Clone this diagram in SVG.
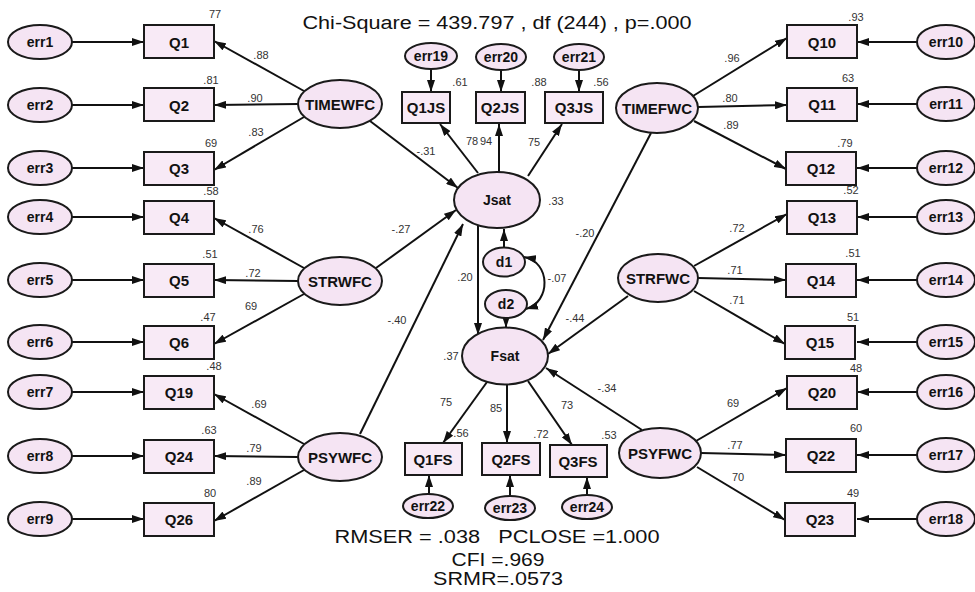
<svg xmlns="http://www.w3.org/2000/svg" width="975" height="592" viewBox="0 0 975 592">
<defs>
<marker id="ah" viewBox="0 0 12 8" refX="12" refY="4" markerWidth="12" markerHeight="8" markerUnits="userSpaceOnUse" orient="auto-start-reverse"><path d="M0,0 L12,4 L0,8 z" fill="#111"/></marker>
</defs>
<style>
.e{fill:#f5e4f3;stroke:#1a1a1a;stroke-width:2}
.b{fill:#f8eaf6;stroke:#1a1a1a;stroke-width:2}
.t{font-family:"Liberation Sans",Arial,sans-serif;font-weight:bold;font-size:15px;text-anchor:middle;dominant-baseline:central;fill:#111}
.s{font-size:14px}
.l{font-family:"Liberation Sans",Arial,sans-serif;font-size:11px;text-anchor:middle;fill:#333}
.h{font-family:"Liberation Sans",Arial,sans-serif;font-size:18px;text-anchor:middle;fill:#111}
#connectors path{stroke:#111;stroke-width:2;fill:none;marker-end:url(#ah)}
</style>
<rect width="975" height="592" fill="#fff"/>
<g id="connectors">
<path d="M72,42 H144"/><path d="M72,105 H144"/><path d="M72,168 H144"/><path d="M72,217 H144"/><path d="M72,280 H144"/><path d="M72,342 H144"/><path d="M72,392 H144"/><path d="M72,456 H144"/><path d="M72,519 H144"/>
<path d="M304,91 L214,41"/><path d="M298,104 L214,105"/><path d="M304,117 L214,170"/>
<path d="M304,268 L214,218"/><path d="M298,281 L214,280"/><path d="M304,294 L214,344"/>
<path d="M304,444 L214,394"/><path d="M298,457 L214,456"/><path d="M304,470 L214,521"/>
<path d="M917,42 H857"/><path d="M917,104 H857"/><path d="M917,168 H857"/><path d="M917,217 H857"/><path d="M917,280 H857"/><path d="M917,342 H857"/><path d="M917,392 H857"/><path d="M917,455 H857"/><path d="M917,519 H857"/>
<path d="M693,96 L787,38"/><path d="M698,107 L787,105"/><path d="M694,121 L786,169"/>
<path d="M694,266 L787,214"/><path d="M698,278 L786,280"/><path d="M694,291 L785,344"/>
<path d="M696,441 L787,388"/><path d="M701,453 L786,455"/><path d="M697,467 L785,520"/>
<path d="M431,69 V92"/><path d="M501,70 V92"/><path d="M579,70 V92"/>
<path d="M478,173 L440,124"/><path d="M499,172 V124"/><path d="M528,176 L562,124"/>
<path d="M370,121 L458,188"/><path d="M376,268 L456,210"/><path d="M360,434 L463,224"/>
<path d="M478,225 L478,335"/>
<path d="M504,247 L504,229"/><path d="M506,318 L506,328"/>
<path d="M524,257 C551,262 551,302 526,309" style="marker-start:url(#ah)"/>
<path d="M651,133 L543,340"/><path d="M628,296 L548,354"/><path d="M642,430 L546,368"/>
<path d="M487,382 L443,443"/><path d="M507,385 V443"/><path d="M528,381 L572,445"/>
<path d="M429,494 V475"/><path d="M510,496 V475"/><path d="M587,495 V477"/>
</g>
<g id="err1"><ellipse class="e" cx="40" cy="42" rx="32" ry="17"/><text class="t s" x="40" y="42">err1</text></g>
<g id="err2"><ellipse class="e" cx="40" cy="105" rx="32" ry="17"/><text class="t s" x="40" y="105">err2</text></g>
<g id="err3"><ellipse class="e" cx="40" cy="168" rx="32" ry="17"/><text class="t s" x="40" y="168">err3</text></g>
<g id="err4"><ellipse class="e" cx="40" cy="217" rx="32" ry="17"/><text class="t s" x="40" y="217">err4</text></g>
<g id="err5"><ellipse class="e" cx="40" cy="280" rx="32" ry="17"/><text class="t s" x="40" y="280">err5</text></g>
<g id="err6"><ellipse class="e" cx="40" cy="342" rx="32" ry="17"/><text class="t s" x="40" y="342">err6</text></g>
<g id="err7"><ellipse class="e" cx="40" cy="392" rx="32" ry="17"/><text class="t s" x="40" y="392">err7</text></g>
<g id="err8"><ellipse class="e" cx="40" cy="456" rx="32" ry="17"/><text class="t s" x="40" y="456">err8</text></g>
<g id="err9"><ellipse class="e" cx="40" cy="519" rx="32" ry="17"/><text class="t s" x="40" y="519">err9</text></g>
<g id="Q1"><rect class="b" x="144" y="25" width="70" height="33"/><text class="t" x="179" y="42">Q1</text></g>
<g id="Q2"><rect class="b" x="144" y="88" width="70" height="33"/><text class="t" x="179" y="105">Q2</text></g>
<g id="Q3"><rect class="b" x="144" y="152" width="70" height="33"/><text class="t" x="179" y="168">Q3</text></g>
<g id="Q4"><rect class="b" x="144" y="201" width="70" height="33"/><text class="t" x="179" y="217">Q4</text></g>
<g id="Q5"><rect class="b" x="144" y="264" width="70" height="33"/><text class="t" x="179" y="280">Q5</text></g>
<g id="Q6"><rect class="b" x="144" y="326" width="70" height="33"/><text class="t" x="179" y="342">Q6</text></g>
<g id="Q19"><rect class="b" x="144" y="376" width="70" height="33"/><text class="t" x="179" y="392">Q19</text></g>
<g id="Q24"><rect class="b" x="144" y="440" width="70" height="33"/><text class="t" x="179" y="456">Q24</text></g>
<g id="Q26"><rect class="b" x="144" y="503" width="70" height="33"/><text class="t" x="179" y="519">Q26</text></g>
<g id="TIMEWFC"><ellipse class="e" cx="340" cy="104" rx="42" ry="24"/><text class="t" x="340" y="104">TIMEWFC</text></g>
<g id="STRWFC"><ellipse class="e" cx="340" cy="281" rx="42" ry="24"/><text class="t" x="340" y="281">STRWFC</text></g>
<g id="PSYWFC"><ellipse class="e" cx="340" cy="457" rx="42" ry="24"/><text class="t" x="340" y="457">PSYWFC</text></g>
<g id="err19"><ellipse class="e" cx="431" cy="56" rx="26" ry="13"/><text class="t s" x="431" y="56">err19</text></g>
<g id="err20"><ellipse class="e" cx="501" cy="57" rx="25" ry="13"/><text class="t s" x="501" y="57">err20</text></g>
<g id="err21"><ellipse class="e" cx="579" cy="57" rx="25" ry="13"/><text class="t s" x="579" y="57">err21</text></g>
<g id="Q1JS"><rect class="b" x="402" y="92" width="48" height="31"/><text class="t" x="426" y="107">Q1JS</text></g>
<g id="Q2JS"><rect class="b" x="476" y="92" width="49" height="31"/><text class="t" x="500" y="107">Q2JS</text></g>
<g id="Q3JS"><rect class="b" x="545" y="92" width="58" height="31"/><text class="t" x="574" y="107">Q3JS</text></g>
<g id="Jsat"><ellipse class="e" cx="497" cy="200" rx="43" ry="28"/><text class="t s" x="497" y="200">Jsat</text></g>
<g id="d1"><ellipse class="e" cx="504" cy="262" rx="21" ry="14.5"/><text class="t s" x="504" y="262">d1</text></g>
<g id="d2"><ellipse class="e" cx="506" cy="304" rx="21" ry="14"/><text class="t s" x="506" y="304">d2</text></g>
<g id="Fsat"><ellipse class="e" cx="505" cy="356" rx="43" ry="28.5"/><text class="t s" x="505" y="356">Fsat</text></g>
<g id="Q1FS"><rect class="b" x="405" y="443" width="57" height="32"/><text class="t" x="433" y="459">Q1FS</text></g>
<g id="Q2FS"><rect class="b" x="482" y="443" width="58" height="32"/><text class="t" x="511" y="459">Q2FS</text></g>
<g id="Q3FS"><rect class="b" x="550" y="445" width="57" height="32"/><text class="t" x="578" y="461">Q3FS</text></g>
<g id="err22"><ellipse class="e" cx="428" cy="506" rx="25" ry="12"/><text class="t s" x="428" y="506">err22</text></g>
<g id="err23"><ellipse class="e" cx="510" cy="508" rx="25" ry="12"/><text class="t s" x="510" y="508">err23</text></g>
<g id="err24"><ellipse class="e" cx="587" cy="507" rx="25" ry="12"/><text class="t s" x="587" y="507">err24</text></g>
<g id="TIMEFWC"><ellipse class="e" cx="657" cy="108" rx="41" ry="25"/><text class="t" x="657" y="108">TIMEFWC</text></g>
<g id="STRFWC"><ellipse class="e" cx="658" cy="278" rx="40" ry="24"/><text class="t" x="658" y="278">STRFWC</text></g>
<g id="PSYFWC"><ellipse class="e" cx="660" cy="453" rx="41" ry="25"/><text class="t" x="660" y="453">PSYFWC</text></g>
<g id="Q10"><rect class="b" x="787" y="25" width="70" height="33"/><text class="t" x="822" y="42">Q10</text></g>
<g id="Q11"><rect class="b" x="787" y="88" width="70" height="33"/><text class="t" x="822" y="104">Q11</text></g>
<g id="Q12"><rect class="b" x="786" y="152" width="70" height="33"/><text class="t" x="821" y="168">Q12</text></g>
<g id="Q13"><rect class="b" x="787" y="201" width="70" height="33"/><text class="t" x="822" y="217">Q13</text></g>
<g id="Q14"><rect class="b" x="786" y="264" width="70" height="33"/><text class="t" x="821" y="280">Q14</text></g>
<g id="Q15"><rect class="b" x="785" y="326" width="70" height="33"/><text class="t" x="820" y="342">Q15</text></g>
<g id="Q20"><rect class="b" x="787" y="376" width="70" height="33"/><text class="t" x="822" y="392">Q20</text></g>
<g id="Q22"><rect class="b" x="786" y="439" width="70" height="33"/><text class="t" x="821" y="455">Q22</text></g>
<g id="Q23"><rect class="b" x="785" y="503" width="70" height="33"/><text class="t" x="820" y="519">Q23</text></g>
<g id="err10"><ellipse class="e" cx="946" cy="42" rx="29" ry="17"/><text class="t s" x="946" y="42">err10</text></g>
<g id="err11"><ellipse class="e" cx="946" cy="104" rx="29" ry="17"/><text class="t s" x="946" y="104">err11</text></g>
<g id="err12"><ellipse class="e" cx="946" cy="168" rx="29" ry="17"/><text class="t s" x="946" y="168">err12</text></g>
<g id="err13"><ellipse class="e" cx="946" cy="217" rx="29" ry="17"/><text class="t s" x="946" y="217">err13</text></g>
<g id="err14"><ellipse class="e" cx="946" cy="280" rx="29" ry="17"/><text class="t s" x="946" y="280">err14</text></g>
<g id="err15"><ellipse class="e" cx="946" cy="342" rx="29" ry="17"/><text class="t s" x="946" y="342">err15</text></g>
<g id="err16"><ellipse class="e" cx="946" cy="392" rx="29" ry="17"/><text class="t s" x="946" y="392">err16</text></g>
<g id="err17"><ellipse class="e" cx="946" cy="455" rx="29" ry="17"/><text class="t s" x="946" y="455">err17</text></g>
<g id="err18"><ellipse class="e" cx="946" cy="519" rx="29" ry="17"/><text class="t s" x="946" y="519">err18</text></g>
<g id="labels">
<text class="l" x="215" y="18">77</text><text class="l" x="211" y="84">.81</text><text class="l" x="211" y="147">69</text><text class="l" x="211" y="195">.58</text><text class="l" x="210" y="258">.51</text><text class="l" x="208" y="321">.47</text><text class="l" x="214" y="370">.48</text><text class="l" x="209" y="434">.63</text><text class="l" x="210" y="497">80</text>
<text class="l" x="261" y="59">.88</text><text class="l" x="255" y="102">.90</text><text class="l" x="256" y="136">.83</text><text class="l" x="256" y="233">.76</text><text class="l" x="253" y="277">.72</text><text class="l" x="251" y="310">69</text><text class="l" x="259" y="408">.69</text><text class="l" x="254" y="452">.79</text><text class="l" x="254" y="485">.89</text>
<text class="l" x="460" y="86">.61</text><text class="l" x="539" y="86">.88</text><text class="l" x="601" y="86">.56</text>
<text class="l" x="472" y="145">78</text><text class="l" x="486" y="145">94</text><text class="l" x="534" y="146">75</text>
<text class="l" x="426" y="155">-.31</text><text class="l" x="401" y="233">-.27</text><text class="l" x="397" y="324">-.40</text>
<text class="l" x="556" y="205">.33</text><text class="l" x="465" y="281">.20</text><text class="l" x="557" y="282">-.07</text><text class="l" x="451" y="360">.37</text>
<text class="l" x="585" y="237">-.20</text><text class="l" x="575" y="322">-.44</text><text class="l" x="607" y="392">-.34</text>
<text class="l" x="446" y="406">75</text><text class="l" x="496" y="412">85</text><text class="l" x="567" y="409">73</text>
<text class="l" x="461" y="437">.56</text><text class="l" x="541" y="438">.72</text><text class="l" x="609" y="439">.53</text>
<text class="l" x="732" y="62">.96</text><text class="l" x="730" y="102">.80</text><text class="l" x="731" y="129">.89</text><text class="l" x="737" y="232">.72</text><text class="l" x="735" y="274">.71</text><text class="l" x="737" y="304">.71</text><text class="l" x="733" y="407">69</text><text class="l" x="735" y="449">.77</text><text class="l" x="738" y="481">70</text>
<text class="l" x="856" y="21">.93</text><text class="l" x="848" y="82">63</text><text class="l" x="845" y="147">.79</text><text class="l" x="851" y="194">.52</text><text class="l" x="853" y="257">.51</text><text class="l" x="853" y="321">51</text><text class="l" x="856" y="372">48</text><text class="l" x="856" y="432">60</text><text class="l" x="853" y="497">49</text>
</g>
<g id="fit">
<text class="h" x="497" y="29" textLength="389" lengthAdjust="spacingAndGlyphs">Chi-Square = 439.797 , df (244) , p=.000</text>
<text class="h" x="497" y="543" textLength="325" lengthAdjust="spacingAndGlyphs" xml:space="preserve">RMSER = .038   PCLOSE =1.000</text>
<text class="h" x="498" y="566" textLength="93" lengthAdjust="spacingAndGlyphs">CFI =.969</text>
<text class="h" x="498" y="585" textLength="130" lengthAdjust="spacingAndGlyphs">SRMR=.0573</text>
</g>
</svg>
